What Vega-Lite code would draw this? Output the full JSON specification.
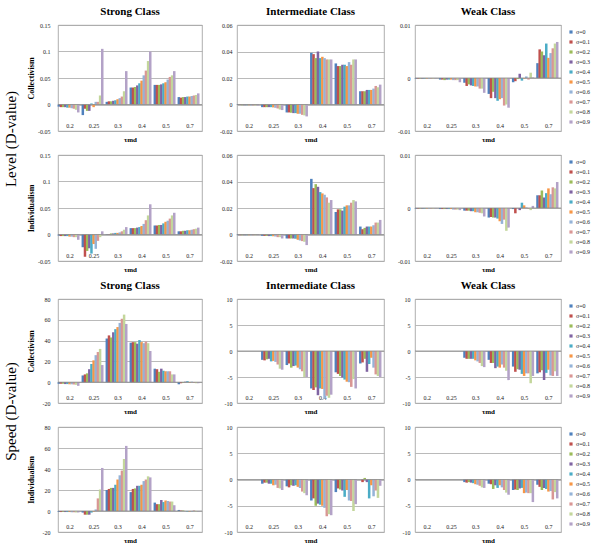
{
"$schema":"https://vega.github.io/schema/vega-lite/v6.json",
"padding":{"left":3,"top":5,"right":0,"bottom":0},
"background":"white",
"config":{
 "font":"Liberation Serif",
 "view":{"stroke":"#9a9a9a","strokeWidth":0.8},
 "axis":{"labelFont":"Liberation Serif","labelFontSize":6,"labelColor":"#222","domain":false,"ticks":false,"tickSize":0,"gridColor":"#a8a8a8","gridWidth":0.8,"titleFont":"Liberation Serif","titleFontWeight":"bold","titleFontSize":8,"titleColor":"#000"},
 "axisX":{"grid":false,"labelPadding":-9,"labelAngle":0,"titlePadding":4,"titleFontSize":7,"minExtent":0,"maxExtent":0},
 "axisY":{"grid":true,"labelPadding":5,"tickCount":20,"labelExpr":"datum.value + ''","labelOverlap":false,"labelBound":false,"labelFlush":false},
 "title":{"font":"Liberation Serif","fontSize":11,"fontWeight":"bold","offset":5,"color":"#000","frame":"group","anchor":"middle"},
 "legend":{"orient":"right","labelFont":"Liberation Serif","labelFontSize":6,"labelColor":"#222","symbolType":"square","symbolSize":10,"symbolStrokeWidth":0,"rowPadding":4,"offset":3,"padding":4,"labelOffset":2},
 "bar":{"strokeWidth":0,"opacity":1,"width":{"band":1.15}}
},
"datasets":{
"a":[
{"t":"0.2","s":"0","v":-0.004},{"t":"0.2","s":"0.1","v":-0.005},{"t":"0.2","s":"0.2","v":-0.005},{"t":"0.2","s":"0.3","v":-0.005},{"t":"0.2","s":"0.4","v":-0.006},{"t":"0.2","s":"0.5","v":-0.006},{"t":"0.2","s":"0.6","v":-0.007},{"t":"0.2","s":"0.7","v":-0.008},{"t":"0.2","s":"0.8","v":-0.01},{"t":"0.2","s":"0.9","v":-0.015},
{"t":"0.25","s":"0","v":-0.02},{"t":"0.25","s":"0.1","v":-0.008},{"t":"0.25","s":"0.2","v":-0.012},{"t":"0.25","s":"0.3","v":-0.012},{"t":"0.25","s":"0.4","v":0.002},{"t":"0.25","s":"0.5","v":-0.005},{"t":"0.25","s":"0.6","v":0.005},{"t":"0.25","s":"0.7","v":0.005},{"t":"0.25","s":"0.8","v":0.017},{"t":"0.25","s":"0.9","v":0.105},
{"t":"0.3","s":"0","v":0.005},{"t":"0.3","s":"0.1","v":0.006},{"t":"0.3","s":"0.2","v":0.006},{"t":"0.3","s":"0.3","v":0.007},{"t":"0.3","s":"0.4","v":0.008},{"t":"0.3","s":"0.5","v":0.01},{"t":"0.3","s":"0.6","v":0.012},{"t":"0.3","s":"0.7","v":0.015},{"t":"0.3","s":"0.8","v":0.025},{"t":"0.3","s":"0.9","v":0.063},
{"t":"0.4","s":"0","v":0.032},{"t":"0.4","s":"0.1","v":0.032},{"t":"0.4","s":"0.2","v":0.033},{"t":"0.4","s":"0.3","v":0.036},{"t":"0.4","s":"0.4","v":0.04},{"t":"0.4","s":"0.5","v":0.045},{"t":"0.4","s":"0.6","v":0.055},{"t":"0.4","s":"0.7","v":0.064},{"t":"0.4","s":"0.8","v":0.082},{"t":"0.4","s":"0.9","v":0.1},
{"t":"0.5","s":"0","v":0.037},{"t":"0.5","s":"0.1","v":0.037},{"t":"0.5","s":"0.2","v":0.037},{"t":"0.5","s":"0.3","v":0.038},{"t":"0.5","s":"0.4","v":0.04},{"t":"0.5","s":"0.5","v":0.042},{"t":"0.5","s":"0.6","v":0.047},{"t":"0.5","s":"0.7","v":0.052},{"t":"0.5","s":"0.8","v":0.055},{"t":"0.5","s":"0.9","v":0.063},
{"t":"0.7","s":"0","v":0.014},{"t":"0.7","s":"0.1","v":0.013},{"t":"0.7","s":"0.2","v":0.014},{"t":"0.7","s":"0.3","v":0.014},{"t":"0.7","s":"0.4","v":0.015},{"t":"0.7","s":"0.5","v":0.015},{"t":"0.7","s":"0.6","v":0.016},{"t":"0.7","s":"0.7","v":0.017},{"t":"0.7","s":"0.8","v":0.018},{"t":"0.7","s":"0.9","v":0.021}
],
"b":[
{"t":"0.2","s":"0","v":-0.0004},{"t":"0.2","s":"0.1","v":-0.0004},{"t":"0.2","s":"0.2","v":-0.0005},{"t":"0.2","s":"0.3","v":-0.0005},{"t":"0.2","s":"0.4","v":-0.0005},{"t":"0.2","s":"0.5","v":-0.0005},{"t":"0.2","s":"0.6","v":-0.0006},{"t":"0.2","s":"0.7","v":-0.0006},{"t":"0.2","s":"0.8","v":-0.0007},{"t":"0.2","s":"0.9","v":-0.0008},
{"t":"0.25","s":"0","v":-0.002},{"t":"0.25","s":"0.1","v":-0.002},{"t":"0.25","s":"0.2","v":-0.002},{"t":"0.25","s":"0.3","v":-0.002},{"t":"0.25","s":"0.4","v":-0.002},{"t":"0.25","s":"0.5","v":-0.0022},{"t":"0.25","s":"0.6","v":-0.0025},{"t":"0.25","s":"0.7","v":-0.003},{"t":"0.25","s":"0.8","v":-0.0038},{"t":"0.25","s":"0.9","v":-0.0042},
{"t":"0.3","s":"0","v":-0.006},{"t":"0.3","s":"0.1","v":-0.006},{"t":"0.3","s":"0.2","v":-0.0062},{"t":"0.3","s":"0.3","v":-0.0065},{"t":"0.3","s":"0.4","v":-0.0065},{"t":"0.3","s":"0.5","v":-0.007},{"t":"0.3","s":"0.6","v":-0.007},{"t":"0.3","s":"0.7","v":-0.0078},{"t":"0.3","s":"0.8","v":-0.0082},{"t":"0.3","s":"0.9","v":-0.009},
{"t":"0.4","s":"0","v":0.039},{"t":"0.4","s":"0.1","v":0.038},{"t":"0.4","s":"0.2","v":0.035},{"t":"0.4","s":"0.3","v":0.04},{"t":"0.4","s":"0.4","v":0.035},{"t":"0.4","s":"0.5","v":0.036},{"t":"0.4","s":"0.6","v":0.035},{"t":"0.4","s":"0.7","v":0.034},{"t":"0.4","s":"0.8","v":0.034},{"t":"0.4","s":"0.9","v":0.034},
{"t":"0.5","s":"0","v":0.031},{"t":"0.5","s":"0.1","v":0.029},{"t":"0.5","s":"0.2","v":0.029},{"t":"0.5","s":"0.3","v":0.03},{"t":"0.5","s":"0.4","v":0.03},{"t":"0.5","s":"0.5","v":0.029},{"t":"0.5","s":"0.6","v":0.032},{"t":"0.5","s":"0.7","v":0.03},{"t":"0.5","s":"0.8","v":0.034},{"t":"0.5","s":"0.9","v":0.034},
{"t":"0.7","s":"0","v":0.01},{"t":"0.7","s":"0.1","v":0.01},{"t":"0.7","s":"0.2","v":0.01},{"t":"0.7","s":"0.3","v":0.011},{"t":"0.7","s":"0.4","v":0.011},{"t":"0.7","s":"0.5","v":0.011},{"t":"0.7","s":"0.6","v":0.012},{"t":"0.7","s":"0.7","v":0.014},{"t":"0.7","s":"0.8","v":0.013},{"t":"0.7","s":"0.9","v":0.015}
],
"c":[
{"t":"0.2","s":"0","v":-0.0001},{"t":"0.2","s":"0.1","v":-0.0001},{"t":"0.2","s":"0.2","v":-0.0001},{"t":"0.2","s":"0.3","v":-0.0001},{"t":"0.2","s":"0.4","v":-0.0001},{"t":"0.2","s":"0.5","v":-0.0001},{"t":"0.2","s":"0.6","v":-0.0001},{"t":"0.2","s":"0.7","v":-0.0001},{"t":"0.2","s":"0.8","v":-0.0001},{"t":"0.2","s":"0.9","v":-0.0001},
{"t":"0.25","s":"0","v":-0.0003},{"t":"0.25","s":"0.1","v":-0.0003},{"t":"0.25","s":"0.2","v":-0.0004},{"t":"0.25","s":"0.3","v":-0.0003},{"t":"0.25","s":"0.4","v":-0.0003},{"t":"0.25","s":"0.5","v":-0.0003},{"t":"0.25","s":"0.6","v":-0.0004},{"t":"0.25","s":"0.7","v":-0.0004},{"t":"0.25","s":"0.8","v":-0.0004},{"t":"0.25","s":"0.9","v":-0.0008},
{"t":"0.3","s":"0","v":-0.0009},{"t":"0.3","s":"0.1","v":-0.0015},{"t":"0.3","s":"0.2","v":-0.0012},{"t":"0.3","s":"0.3","v":-0.0014},{"t":"0.3","s":"0.4","v":-0.0015},{"t":"0.3","s":"0.5","v":-0.0016},{"t":"0.3","s":"0.6","v":-0.0016},{"t":"0.3","s":"0.7","v":-0.002},{"t":"0.3","s":"0.8","v":-0.002},{"t":"0.3","s":"0.9","v":-0.0028},
{"t":"0.4","s":"0","v":-0.003},{"t":"0.4","s":"0.1","v":-0.0038},{"t":"0.4","s":"0.2","v":-0.0026},{"t":"0.4","s":"0.3","v":-0.0038},{"t":"0.4","s":"0.4","v":-0.0043},{"t":"0.4","s":"0.5","v":-0.004},{"t":"0.4","s":"0.6","v":-0.0038},{"t":"0.4","s":"0.7","v":-0.0052},{"t":"0.4","s":"0.8","v":-0.005},{"t":"0.4","s":"0.9","v":-0.0056},
{"t":"0.5","s":"0","v":-0.0008},{"t":"0.5","s":"0.1","v":-0.0006},{"t":"0.5","s":"0.2","v":-0.0002},{"t":"0.5","s":"0.3","v":0.0008},{"t":"0.5","s":"0.4","v":-0.0005},{"t":"0.5","s":"0.5","v":-0.0001},{"t":"0.5","s":"0.6","v":0.0003},{"t":"0.5","s":"0.7","v":-0.0003},{"t":"0.5","s":"0.8","v":0.001},{"t":"0.5","s":"0.9","v":0.0001},
{"t":"0.7","s":"0","v":0.0028},{"t":"0.7","s":"0.1","v":0.0054},{"t":"0.7","s":"0.2","v":0.005},{"t":"0.7","s":"0.3","v":0.0043},{"t":"0.7","s":"0.4","v":0.0065},{"t":"0.7","s":"0.5","v":0.0038},{"t":"0.7","s":"0.6","v":0.0047},{"t":"0.7","s":"0.7","v":0.0056},{"t":"0.7","s":"0.8","v":0.0065},{"t":"0.7","s":"0.9","v":0.0068}
],
"d":[
{"t":"0.2","s":"0","v":-0.002},{"t":"0.2","s":"0.1","v":-0.003},{"t":"0.2","s":"0.2","v":-0.003},{"t":"0.2","s":"0.3","v":-0.003},{"t":"0.2","s":"0.4","v":-0.003},{"t":"0.2","s":"0.5","v":-0.004},{"t":"0.2","s":"0.6","v":-0.004},{"t":"0.2","s":"0.7","v":-0.005},{"t":"0.2","s":"0.8","v":-0.005},{"t":"0.2","s":"0.9","v":-0.01},
{"t":"0.25","s":"0","v":-0.024},{"t":"0.25","s":"0.1","v":-0.042},{"t":"0.25","s":"0.2","v":-0.031},{"t":"0.25","s":"0.3","v":-0.026},{"t":"0.25","s":"0.4","v":-0.036},{"t":"0.25","s":"0.5","v":-0.018},{"t":"0.25","s":"0.6","v":-0.027},{"t":"0.25","s":"0.7","v":-0.012},{"t":"0.25","s":"0.8","v":-0.005},{"t":"0.25","s":"0.9","v":0.006},
{"t":"0.3","s":"0","v":0.001},{"t":"0.3","s":"0.1","v":0.001},{"t":"0.3","s":"0.2","v":0.002},{"t":"0.3","s":"0.3","v":0.002},{"t":"0.3","s":"0.4","v":0.003},{"t":"0.3","s":"0.5","v":0.003},{"t":"0.3","s":"0.6","v":0.004},{"t":"0.3","s":"0.7","v":0.006},{"t":"0.3","s":"0.8","v":0.009},{"t":"0.3","s":"0.9","v":0.014},
{"t":"0.4","s":"0","v":0.012},{"t":"0.4","s":"0.1","v":0.012},{"t":"0.4","s":"0.2","v":0.012},{"t":"0.4","s":"0.3","v":0.013},{"t":"0.4","s":"0.4","v":0.014},{"t":"0.4","s":"0.5","v":0.016},{"t":"0.4","s":"0.6","v":0.02},{"t":"0.4","s":"0.7","v":0.027},{"t":"0.4","s":"0.8","v":0.036},{"t":"0.4","s":"0.9","v":0.057},
{"t":"0.5","s":"0","v":0.017},{"t":"0.5","s":"0.1","v":0.017},{"t":"0.5","s":"0.2","v":0.018},{"t":"0.5","s":"0.3","v":0.018},{"t":"0.5","s":"0.4","v":0.021},{"t":"0.5","s":"0.5","v":0.024},{"t":"0.5","s":"0.6","v":0.026},{"t":"0.5","s":"0.7","v":0.03},{"t":"0.5","s":"0.8","v":0.036},{"t":"0.5","s":"0.9","v":0.041},
{"t":"0.7","s":"0","v":0.006},{"t":"0.7","s":"0.1","v":0.006},{"t":"0.7","s":"0.2","v":0.007},{"t":"0.7","s":"0.3","v":0.007},{"t":"0.7","s":"0.4","v":0.008},{"t":"0.7","s":"0.5","v":0.008},{"t":"0.7","s":"0.6","v":0.009},{"t":"0.7","s":"0.7","v":0.01},{"t":"0.7","s":"0.8","v":0.011},{"t":"0.7","s":"0.9","v":0.013}
],
"e":[
{"t":"0.2","s":"0","v":-0.0005},{"t":"0.2","s":"0.1","v":-0.0005},{"t":"0.2","s":"0.2","v":-0.0005},{"t":"0.2","s":"0.3","v":-0.0005},{"t":"0.2","s":"0.4","v":-0.0005},{"t":"0.2","s":"0.5","v":-0.0005},{"t":"0.2","s":"0.6","v":-0.0005},{"t":"0.2","s":"0.7","v":-0.0005},{"t":"0.2","s":"0.8","v":-0.0005},{"t":"0.2","s":"0.9","v":-0.0005},
{"t":"0.25","s":"0","v":-0.001},{"t":"0.25","s":"0.1","v":-0.001},{"t":"0.25","s":"0.2","v":-0.001},{"t":"0.25","s":"0.3","v":-0.0012},{"t":"0.25","s":"0.4","v":-0.0012},{"t":"0.25","s":"0.5","v":-0.0013},{"t":"0.25","s":"0.6","v":-0.0015},{"t":"0.25","s":"0.7","v":-0.002},{"t":"0.25","s":"0.8","v":-0.002},{"t":"0.25","s":"0.9","v":-0.003},
{"t":"0.3","s":"0","v":-0.003},{"t":"0.3","s":"0.1","v":-0.003},{"t":"0.3","s":"0.2","v":-0.003},{"t":"0.3","s":"0.3","v":-0.003},{"t":"0.3","s":"0.4","v":-0.0032},{"t":"0.3","s":"0.5","v":-0.004},{"t":"0.3","s":"0.6","v":-0.0045},{"t":"0.3","s":"0.7","v":-0.005},{"t":"0.3","s":"0.8","v":-0.0055},{"t":"0.3","s":"0.9","v":-0.008},
{"t":"0.4","s":"0","v":0.042},{"t":"0.4","s":"0.1","v":0.035},{"t":"0.4","s":"0.2","v":0.038},{"t":"0.4","s":"0.3","v":0.036},{"t":"0.4","s":"0.4","v":0.032},{"t":"0.4","s":"0.5","v":0.031},{"t":"0.4","s":"0.6","v":0.03},{"t":"0.4","s":"0.7","v":0.028},{"t":"0.4","s":"0.8","v":0.024},{"t":"0.4","s":"0.9","v":0.026},
{"t":"0.5","s":"0","v":0.017},{"t":"0.5","s":"0.1","v":0.019},{"t":"0.5","s":"0.2","v":0.019},{"t":"0.5","s":"0.3","v":0.018},{"t":"0.5","s":"0.4","v":0.021},{"t":"0.5","s":"0.5","v":0.022},{"t":"0.5","s":"0.6","v":0.022},{"t":"0.5","s":"0.7","v":0.024},{"t":"0.5","s":"0.8","v":0.026},{"t":"0.5","s":"0.9","v":0.025},
{"t":"0.7","s":"0","v":0.006},{"t":"0.7","s":"0.1","v":0.004},{"t":"0.7","s":"0.2","v":0.005},{"t":"0.7","s":"0.3","v":0.006},{"t":"0.7","s":"0.4","v":0.006},{"t":"0.7","s":"0.5","v":0.006},{"t":"0.7","s":"0.6","v":0.007},{"t":"0.7","s":"0.7","v":0.009},{"t":"0.7","s":"0.8","v":0.009},{"t":"0.7","s":"0.9","v":0.011}
],
"f":[
{"t":"0.2","s":"0","v":-0.0001},{"t":"0.2","s":"0.1","v":-0.0001},{"t":"0.2","s":"0.2","v":-0.0001},{"t":"0.2","s":"0.3","v":-0.0001},{"t":"0.2","s":"0.4","v":-0.0001},{"t":"0.2","s":"0.5","v":-0.0001},{"t":"0.2","s":"0.6","v":-0.0001},{"t":"0.2","s":"0.7","v":-0.0001},{"t":"0.2","s":"0.8","v":-0.0001},{"t":"0.2","s":"0.9","v":-0.0001},
{"t":"0.25","s":"0","v":-0.0002},{"t":"0.25","s":"0.1","v":-0.0002},{"t":"0.25","s":"0.2","v":-0.0002},{"t":"0.25","s":"0.3","v":-0.0002},{"t":"0.25","s":"0.4","v":-0.0002},{"t":"0.25","s":"0.5","v":-0.0002},{"t":"0.25","s":"0.6","v":-0.0003},{"t":"0.25","s":"0.7","v":-0.0003},{"t":"0.25","s":"0.8","v":-0.0003},{"t":"0.25","s":"0.9","v":-0.0004},
{"t":"0.3","s":"0","v":-0.0005},{"t":"0.3","s":"0.1","v":-0.0005},{"t":"0.3","s":"0.2","v":-0.0005},{"t":"0.3","s":"0.3","v":-0.0006},{"t":"0.3","s":"0.4","v":-0.0006},{"t":"0.3","s":"0.5","v":-0.0008},{"t":"0.3","s":"0.6","v":-0.0008},{"t":"0.3","s":"0.7","v":-0.0009},{"t":"0.3","s":"0.8","v":-0.001},{"t":"0.3","s":"0.9","v":-0.0016},
{"t":"0.4","s":"0","v":-0.0018},{"t":"0.4","s":"0.1","v":-0.0017},{"t":"0.4","s":"0.2","v":-0.0018},{"t":"0.4","s":"0.3","v":-0.0018},{"t":"0.4","s":"0.4","v":-0.002},{"t":"0.4","s":"0.5","v":-0.0025},{"t":"0.4","s":"0.6","v":-0.003},{"t":"0.4","s":"0.7","v":-0.0022},{"t":"0.4","s":"0.8","v":-0.0043},{"t":"0.4","s":"0.9","v":-0.0037},
{"t":"0.5","s":"0","v":-0.0002},{"t":"0.5","s":"0.1","v":-0.001},{"t":"0.5","s":"0.2","v":0},{"t":"0.5","s":"0.3","v":-0.0004},{"t":"0.5","s":"0.4","v":0.001},{"t":"0.5","s":"0.5","v":0.0005},{"t":"0.5","s":"0.6","v":0.0001},{"t":"0.5","s":"0.7","v":-0.0001},{"t":"0.5","s":"0.8","v":-0.0004},{"t":"0.5","s":"0.9","v":0.0004},
{"t":"0.7","s":"0","v":0.0024},{"t":"0.7","s":"0.1","v":0.0024},{"t":"0.7","s":"0.2","v":0.0033},{"t":"0.7","s":"0.3","v":0.002},{"t":"0.7","s":"0.4","v":0.0028},{"t":"0.7","s":"0.5","v":0.0037},{"t":"0.7","s":"0.6","v":0.0026},{"t":"0.7","s":"0.7","v":0.0039},{"t":"0.7","s":"0.8","v":0.0037},{"t":"0.7","s":"0.9","v":0.0049}
],
"g":[
{"t":"0.2","s":"0","v":-1.5},{"t":"0.2","s":"0.1","v":-1.5},{"t":"0.2","s":"0.2","v":-1.5},{"t":"0.2","s":"0.3","v":-1.8},{"t":"0.2","s":"0.4","v":-1.8},{"t":"0.2","s":"0.5","v":-2},{"t":"0.2","s":"0.6","v":-2},{"t":"0.2","s":"0.7","v":-2.2},{"t":"0.2","s":"0.8","v":-2.5},{"t":"0.2","s":"0.9","v":-3.5},
{"t":"0.25","s":"0","v":6.5},{"t":"0.25","s":"0.1","v":7.5},{"t":"0.25","s":"0.2","v":8.5},{"t":"0.25","s":"0.3","v":12.5},{"t":"0.25","s":"0.4","v":17.5},{"t":"0.25","s":"0.5","v":21},{"t":"0.25","s":"0.6","v":26},{"t":"0.25","s":"0.7","v":29},{"t":"0.25","s":"0.8","v":32},{"t":"0.25","s":"0.9","v":16.5},
{"t":"0.3","s":"0","v":42},{"t":"0.3","s":"0.1","v":45},{"t":"0.3","s":"0.2","v":43},{"t":"0.3","s":"0.3","v":48},{"t":"0.3","s":"0.4","v":51},{"t":"0.3","s":"0.5","v":53},{"t":"0.3","s":"0.6","v":57},{"t":"0.3","s":"0.7","v":61},{"t":"0.3","s":"0.8","v":65},{"t":"0.3","s":"0.9","v":56},
{"t":"0.4","s":"0","v":38},{"t":"0.4","s":"0.1","v":38.5},{"t":"0.4","s":"0.2","v":38.5},{"t":"0.4","s":"0.3","v":37},{"t":"0.4","s":"0.4","v":40.5},{"t":"0.4","s":"0.5","v":38.5},{"t":"0.4","s":"0.6","v":37.5},{"t":"0.4","s":"0.7","v":39},{"t":"0.4","s":"0.8","v":37.5},{"t":"0.4","s":"0.9","v":30},
{"t":"0.5","s":"0","v":13},{"t":"0.5","s":"0.1","v":12.5},{"t":"0.5","s":"0.2","v":10},{"t":"0.5","s":"0.3","v":13},{"t":"0.5","s":"0.4","v":11},{"t":"0.5","s":"0.5","v":10.5},{"t":"0.5","s":"0.6","v":10.5},{"t":"0.5","s":"0.7","v":10.5},{"t":"0.5","s":"0.8","v":7.5},{"t":"0.5","s":"0.9","v":7.5},
{"t":"0.7","s":"0","v":-2},{"t":"0.7","s":"0.1","v":-1},{"t":"0.7","s":"0.2","v":-0.5},{"t":"0.7","s":"0.3","v":0.5},{"t":"0.7","s":"0.4","v":1},{"t":"0.7","s":"0.5","v":-0.5},{"t":"0.7","s":"0.6","v":0.5},{"t":"0.7","s":"0.7","v":-0.5},{"t":"0.7","s":"0.8","v":-1},{"t":"0.7","s":"0.9","v":-1}
],
"h":[
{"t":"0.25","s":"0","v":-1.7},{"t":"0.25","s":"0.1","v":-1.8},{"t":"0.25","s":"0.2","v":-1.6},{"t":"0.25","s":"0.3","v":-1.5},{"t":"0.25","s":"0.4","v":-2},{"t":"0.25","s":"0.5","v":-1.9},{"t":"0.25","s":"0.6","v":-2.1},{"t":"0.25","s":"0.7","v":-2.6},{"t":"0.25","s":"0.8","v":-3.4},{"t":"0.25","s":"0.9","v":-3.6},
{"t":"0.3","s":"0","v":-2.7},{"t":"0.3","s":"0.1","v":-2.4},{"t":"0.3","s":"0.2","v":-3.2},{"t":"0.3","s":"0.3","v":-2.9},{"t":"0.3","s":"0.4","v":-2.8},{"t":"0.3","s":"0.5","v":-3.2},{"t":"0.3","s":"0.6","v":-3.5},{"t":"0.3","s":"0.7","v":-3.9},{"t":"0.3","s":"0.8","v":-5},{"t":"0.3","s":"0.9","v":-5},
{"t":"0.4","s":"0","v":-7.2},{"t":"0.4","s":"0.1","v":-7.5},{"t":"0.4","s":"0.2","v":-7},{"t":"0.4","s":"0.3","v":-8.5},{"t":"0.4","s":"0.4","v":-7.2},{"t":"0.4","s":"0.5","v":-7.3},{"t":"0.4","s":"0.6","v":-9.2},{"t":"0.4","s":"0.7","v":-8.6},{"t":"0.4","s":"0.8","v":-9},{"t":"0.4","s":"0.9","v":-8.4},
{"t":"0.5","s":"0","v":-4.1},{"t":"0.5","s":"0.1","v":-4.4},{"t":"0.5","s":"0.2","v":-4.8},{"t":"0.5","s":"0.3","v":-5.1},{"t":"0.5","s":"0.4","v":-5.5},{"t":"0.5","s":"0.5","v":-5.9},{"t":"0.5","s":"0.6","v":-6},{"t":"0.5","s":"0.7","v":-6.9},{"t":"0.5","s":"0.8","v":-5.4},{"t":"0.5","s":"0.9","v":-7.2},
{"t":"0.7","s":"0","v":-2.4},{"t":"0.7","s":"0.1","v":-2.2},{"t":"0.7","s":"0.2","v":-1.5},{"t":"0.7","s":"0.3","v":-4},{"t":"0.7","s":"0.4","v":-2.5},{"t":"0.7","s":"0.5","v":-1.3},{"t":"0.7","s":"0.6","v":-3.2},{"t":"0.7","s":"0.7","v":-4.5},{"t":"0.7","s":"0.8","v":-4.8},{"t":"0.7","s":"0.9","v":-5}
],
"i":[
{"t":"0.3","s":"0","v":-1.3},{"t":"0.3","s":"0.1","v":-1.5},{"t":"0.3","s":"0.2","v":-1.5},{"t":"0.3","s":"0.3","v":-1.5},{"t":"0.3","s":"0.4","v":-1.5},{"t":"0.3","s":"0.5","v":-1.8},{"t":"0.3","s":"0.6","v":-2},{"t":"0.3","s":"0.7","v":-2.3},{"t":"0.3","s":"0.8","v":-2.9},{"t":"0.3","s":"0.9","v":-3.1},
{"t":"0.4","s":"0","v":-1.7},{"t":"0.4","s":"0.1","v":-2.3},{"t":"0.4","s":"0.2","v":-2.3},{"t":"0.4","s":"0.3","v":-3.3},{"t":"0.4","s":"0.4","v":-3},{"t":"0.4","s":"0.5","v":-3.2},{"t":"0.4","s":"0.6","v":-2.6},{"t":"0.4","s":"0.7","v":-3.2},{"t":"0.4","s":"0.8","v":-3.8},{"t":"0.4","s":"0.9","v":-5.6},
{"t":"0.5","s":"0","v":-3},{"t":"0.5","s":"0.1","v":-4},{"t":"0.5","s":"0.2","v":-3.5},{"t":"0.5","s":"0.3","v":-3.6},{"t":"0.5","s":"0.4","v":-4.4},{"t":"0.5","s":"0.5","v":-4.8},{"t":"0.5","s":"0.6","v":-4.3},{"t":"0.5","s":"0.7","v":-4.3},{"t":"0.5","s":"0.8","v":-6.2},{"t":"0.5","s":"0.9","v":-4.8},
{"t":"0.7","s":"0","v":-4.3},{"t":"0.7","s":"0.1","v":-4.1},{"t":"0.7","s":"0.2","v":-3.7},{"t":"0.7","s":"0.3","v":-5.6},{"t":"0.7","s":"0.4","v":-4.2},{"t":"0.7","s":"0.5","v":-3.6},{"t":"0.7","s":"0.6","v":-4.7},{"t":"0.7","s":"0.7","v":-4.8},{"t":"0.7","s":"0.8","v":-3.9},{"t":"0.7","s":"0.9","v":-4.8}
],
"j":[
{"t":"0.2","s":"0","v":-0.8},{"t":"0.2","s":"0.1","v":-1},{"t":"0.2","s":"0.2","v":-0.8},{"t":"0.2","s":"0.3","v":-1},{"t":"0.2","s":"0.4","v":-1},{"t":"0.2","s":"0.5","v":-1},{"t":"0.2","s":"0.6","v":-1.2},{"t":"0.2","s":"0.7","v":-1.2},{"t":"0.2","s":"0.8","v":-1.4},{"t":"0.2","s":"0.9","v":-1.4},
{"t":"0.25","s":"0","v":-1.5},{"t":"0.25","s":"0.1","v":-3.5},{"t":"0.25","s":"0.2","v":-3.5},{"t":"0.25","s":"0.3","v":-3.5},{"t":"0.25","s":"0.4","v":-1.5},{"t":"0.25","s":"0.5","v":-0.5},{"t":"0.25","s":"0.6","v":1.5},{"t":"0.25","s":"0.7","v":12},{"t":"0.25","s":"0.8","v":20.5},{"t":"0.25","s":"0.9","v":41},
{"t":"0.3","s":"0","v":20},{"t":"0.3","s":"0.1","v":21},{"t":"0.3","s":"0.2","v":22},{"t":"0.3","s":"0.3","v":22},{"t":"0.3","s":"0.4","v":25},{"t":"0.3","s":"0.5","v":30},{"t":"0.3","s":"0.6","v":34},{"t":"0.3","s":"0.7","v":38.5},{"t":"0.3","s":"0.8","v":49.5},{"t":"0.3","s":"0.9","v":62},
{"t":"0.4","s":"0","v":18},{"t":"0.4","s":"0.1","v":21},{"t":"0.4","s":"0.2","v":21.5},{"t":"0.4","s":"0.3","v":24},{"t":"0.4","s":"0.4","v":24},{"t":"0.4","s":"0.5","v":25},{"t":"0.4","s":"0.6","v":28.5},{"t":"0.4","s":"0.7","v":30},{"t":"0.4","s":"0.8","v":33},{"t":"0.4","s":"0.9","v":32},
{"t":"0.5","s":"0","v":8},{"t":"0.5","s":"0.1","v":6.5},{"t":"0.5","s":"0.2","v":6.5},{"t":"0.5","s":"0.3","v":10.5},{"t":"0.5","s":"0.4","v":8.5},{"t":"0.5","s":"0.5","v":10},{"t":"0.5","s":"0.6","v":9.5},{"t":"0.5","s":"0.7","v":9},{"t":"0.5","s":"0.8","v":9},{"t":"0.5","s":"0.9","v":5.5},
{"t":"0.7","s":"0","v":1},{"t":"0.7","s":"0.1","v":0.5},{"t":"0.7","s":"0.2","v":0.5},{"t":"0.7","s":"0.3","v":0},{"t":"0.7","s":"0.4","v":-0.5},{"t":"0.7","s":"0.5","v":-0.5},{"t":"0.7","s":"0.6","v":-0.5},{"t":"0.7","s":"0.7","v":0.5},{"t":"0.7","s":"0.8","v":-0.5},{"t":"0.7","s":"0.9","v":-0.5}
],
"k":[
{"t":"0.25","s":"0","v":-0.8},{"t":"0.25","s":"0.1","v":-0.6},{"t":"0.25","s":"0.2","v":-0.6},{"t":"0.25","s":"0.3","v":-0.8},{"t":"0.25","s":"0.4","v":-0.8},{"t":"0.25","s":"0.5","v":-1.1},{"t":"0.25","s":"0.6","v":-1},{"t":"0.25","s":"0.7","v":-1.6},{"t":"0.25","s":"0.8","v":-1.7},{"t":"0.25","s":"0.9","v":-2},
{"t":"0.3","s":"0","v":-1.3},{"t":"0.3","s":"0.1","v":-1.5},{"t":"0.3","s":"0.2","v":-1.1},{"t":"0.3","s":"0.3","v":-1.2},{"t":"0.3","s":"0.4","v":-1.1},{"t":"0.3","s":"0.5","v":-1.4},{"t":"0.3","s":"0.6","v":-1.6},{"t":"0.3","s":"0.7","v":-2.3},{"t":"0.3","s":"0.8","v":-2.6},{"t":"0.3","s":"0.9","v":-3},
{"t":"0.4","s":"0","v":-4},{"t":"0.4","s":"0.1","v":-3.6},{"t":"0.4","s":"0.2","v":-5},{"t":"0.4","s":"0.3","v":-4.6},{"t":"0.4","s":"0.4","v":-4.8},{"t":"0.4","s":"0.5","v":-5},{"t":"0.4","s":"0.6","v":-5.4},{"t":"0.4","s":"0.7","v":-7},{"t":"0.4","s":"0.8","v":-6.6},{"t":"0.4","s":"0.9","v":-6.8},
{"t":"0.5","s":"0","v":-2.4},{"t":"0.5","s":"0.1","v":-1.7},{"t":"0.5","s":"0.2","v":-1.9},{"t":"0.5","s":"0.3","v":-2.1},{"t":"0.5","s":"0.4","v":-3.3},{"t":"0.5","s":"0.5","v":-2},{"t":"0.5","s":"0.6","v":-4},{"t":"0.5","s":"0.7","v":-4.1},{"t":"0.5","s":"0.8","v":-6},{"t":"0.5","s":"0.9","v":-4.7},
{"t":"0.7","s":"0","v":0},{"t":"0.7","s":"0.1","v":-0.5},{"t":"0.7","s":"0.2","v":0.3},{"t":"0.7","s":"0.3","v":-0.5},{"t":"0.7","s":"0.4","v":-3.6},{"t":"0.7","s":"0.5","v":-1.1},{"t":"0.7","s":"0.6","v":-3.2},{"t":"0.7","s":"0.7","v":-2.1},{"t":"0.7","s":"0.8","v":-3.5},{"t":"0.7","s":"0.9","v":-1.2}
],
"l":[
{"t":"0.3","s":"0","v":-0.5},{"t":"0.3","s":"0.1","v":-0.6},{"t":"0.3","s":"0.2","v":-0.5},{"t":"0.3","s":"0.3","v":-0.6},{"t":"0.3","s":"0.4","v":-0.7},{"t":"0.3","s":"0.5","v":-0.9},{"t":"0.3","s":"0.6","v":-1},{"t":"0.3","s":"0.7","v":-1.2},{"t":"0.3","s":"0.8","v":-1.5},{"t":"0.3","s":"0.9","v":-1.6},
{"t":"0.4","s":"0","v":-0.8},{"t":"0.4","s":"0.1","v":-0.9},{"t":"0.4","s":"0.2","v":-1.8},{"t":"0.4","s":"0.3","v":-1.1},{"t":"0.4","s":"0.4","v":-1.6},{"t":"0.4","s":"0.5","v":-1.1},{"t":"0.4","s":"0.6","v":-1.5},{"t":"0.4","s":"0.7","v":-2},{"t":"0.4","s":"0.8","v":-2.5},{"t":"0.4","s":"0.9","v":-2.9},
{"t":"0.5","s":"0","v":-2},{"t":"0.5","s":"0.1","v":-1.9},{"t":"0.5","s":"0.2","v":-2},{"t":"0.5","s":"0.3","v":-1.7},{"t":"0.5","s":"0.4","v":-1.6},{"t":"0.5","s":"0.5","v":-2.6},{"t":"0.5","s":"0.6","v":-2.5},{"t":"0.5","s":"0.7","v":-2.6},{"t":"0.5","s":"0.8","v":-2.6},{"t":"0.5","s":"0.9","v":-4.3},
{"t":"0.7","s":"0","v":-1},{"t":"0.7","s":"0.1","v":-1.4},{"t":"0.7","s":"0.2","v":-2},{"t":"0.7","s":"0.3","v":-1.6},{"t":"0.7","s":"0.4","v":-1.8},{"t":"0.7","s":"0.5","v":-2.3},{"t":"0.7","s":"0.6","v":-2.2},{"t":"0.7","s":"0.7","v":-3.8},{"t":"0.7","s":"0.8","v":-2.4},{"t":"0.7","s":"0.9","v":-3.6}
]
},
"resolve":{"scale":{"x":"independent","y":"independent","xOffset":"independent","color":"independent"},"axis":{"x":"independent","y":"independent"},"legend":{"color":"independent"}},
"spacing":6,
"vconcat":[
{"title":{"text":"Level (D-value)","orient":"left","fontSize":15,"fontWeight":"normal","offset":8,"anchor":"middle","frame":"bounds"},
 "resolve":{"scale":{"x":"independent","y":"independent","xOffset":"independent","color":"independent"},"axis":{"x":"independent","y":"independent"},"legend":{"color":"independent"}},
 "spacing":8,
 "vconcat":[
  {"spacing":11,"resolve":{"scale":{"x":"independent","y":"independent","xOffset":"independent","color":"independent"},"axis":{"x":"independent","y":"independent"},"legend":{"color":"independent"}},
   "hconcat":[
    {"title":"Strong Class","width":144,"height":106,"data":{"name":"a"},"layer":[
     {"mark":"bar","encoding":{
      "x":{"field":"t","type":"nominal","sort":null,"scale":{"domain":["0.2","0.25","0.3","0.4","0.5","0.7"],"paddingInner":0.1,"paddingOuter":0.05},"title":"τmd"},
      "xOffset":{"field":"s","type":"nominal","sort":null,"scale":{"domain":["0","0.1","0.2","0.3","0.4","0.5","0.6","0.7","0.8","0.9"],"paddingInner":0,"paddingOuter":0}},
      "y":{"field":"v","type":"quantitative","scale":{"domain":[-0.05,0.15],"nice":false,"zero":false},"axis":{"values":[-0.05,0,0.05,0.1,0.15],"minExtent":22,"maxExtent":22,"labelPadding":8,"titlePadding":1},"title":"Collectivism"},
      "color":{"field":"s","type":"nominal","sort":null,"scale":{"domain":["0","0.1","0.2","0.3","0.4","0.5","0.6","0.7","0.8","0.9"],"range":["#4F81BD","#C0504D","#9BBB59","#8064A2","#4BACC6","#F79646","#95B3D7","#D99694","#C3D69B","#B3A2C7"]},"legend":null}}},
     {"data":{"values":[{}]},"mark":{"type":"rule","color":"#868686","strokeWidth":0.8},"encoding":{"y":{"datum":0}}}]},
    {"title":"Intermediate Class","width":147,"height":106,"data":{"name":"b"},"layer":[
     {"mark":"bar","encoding":{
      "x":{"field":"t","type":"nominal","sort":null,"scale":{"domain":["0.2","0.25","0.3","0.4","0.5","0.7"],"paddingInner":0.1,"paddingOuter":0.05},"title":"τmd"},
      "xOffset":{"field":"s","type":"nominal","sort":null,"scale":{"domain":["0","0.1","0.2","0.3","0.4","0.5","0.6","0.7","0.8","0.9"],"paddingInner":0,"paddingOuter":0}},
      "y":{"field":"v","type":"quantitative","scale":{"domain":[-0.02,0.06],"nice":false,"zero":false},"axis":{"values":[-0.02,0,0.02,0.04,0.06],"minExtent":22,"maxExtent":22},"title":null},
      "color":{"field":"s","type":"nominal","sort":null,"scale":{"domain":["0","0.1","0.2","0.3","0.4","0.5","0.6","0.7","0.8","0.9"],"range":["#4F81BD","#C0504D","#9BBB59","#8064A2","#4BACC6","#F79646","#95B3D7","#D99694","#C3D69B","#B3A2C7"]},"legend":null}}},
     {"data":{"values":[{}]},"mark":{"type":"rule","color":"#868686","strokeWidth":0.8},"encoding":{"y":{"datum":0}}}]},
    {"title":"Weak Class","width":146,"height":106,"data":{"name":"c"},"layer":[
     {"mark":"bar","encoding":{
      "x":{"field":"t","type":"nominal","sort":null,"scale":{"domain":["0.2","0.25","0.3","0.4","0.5","0.7"],"paddingInner":0.1,"paddingOuter":0.05},"title":"τmd"},
      "xOffset":{"field":"s","type":"nominal","sort":null,"scale":{"domain":["0","0.1","0.2","0.3","0.4","0.5","0.6","0.7","0.8","0.9"],"paddingInner":0,"paddingOuter":0}},
      "y":{"field":"v","type":"quantitative","scale":{"domain":[-0.01,0.01],"nice":false,"zero":false},"axis":{"values":[-0.01,0,0.01],"minExtent":18,"maxExtent":18},"title":null},
      "color":{"field":"s","type":"nominal","sort":null,"scale":{"domain":["0","0.1","0.2","0.3","0.4","0.5","0.6","0.7","0.8","0.9"],"range":["#4F81BD","#C0504D","#9BBB59","#8064A2","#4BACC6","#F79646","#95B3D7","#D99694","#C3D69B","#B3A2C7"]},"legend":{"title":null,"labelExpr":"'σ=' + datum.label"}}}},
     {"data":{"values":[{}]},"mark":{"type":"rule","color":"#868686","strokeWidth":0.8},"encoding":{"y":{"datum":0}}}]}
   ]},
  {"spacing":11,"resolve":{"scale":{"x":"independent","y":"independent","xOffset":"independent","color":"independent"},"axis":{"x":"independent","y":"independent"},"legend":{"color":"independent"}},
   "hconcat":[
    {"width":144,"height":106,"data":{"name":"d"},"layer":[
     {"mark":"bar","encoding":{
      "x":{"field":"t","type":"nominal","sort":null,"scale":{"domain":["0.2","0.25","0.3","0.4","0.5","0.7"],"paddingInner":0.1,"paddingOuter":0.05},"title":"τmd"},
      "xOffset":{"field":"s","type":"nominal","sort":null,"scale":{"domain":["0","0.1","0.2","0.3","0.4","0.5","0.6","0.7","0.8","0.9"],"paddingInner":0,"paddingOuter":0}},
      "y":{"field":"v","type":"quantitative","scale":{"domain":[-0.05,0.15],"nice":false,"zero":false},"axis":{"values":[-0.05,0,0.05,0.1,0.15],"minExtent":22,"maxExtent":22,"labelPadding":8,"titlePadding":1},"title":"Individualism"},
      "color":{"field":"s","type":"nominal","sort":null,"scale":{"domain":["0","0.1","0.2","0.3","0.4","0.5","0.6","0.7","0.8","0.9"],"range":["#4F81BD","#C0504D","#9BBB59","#8064A2","#4BACC6","#F79646","#95B3D7","#D99694","#C3D69B","#B3A2C7"]},"legend":null}}},
     {"data":{"values":[{}]},"mark":{"type":"rule","color":"#868686","strokeWidth":0.8},"encoding":{"y":{"datum":0}}}]},
    {"width":147,"height":106,"data":{"name":"e"},"layer":[
     {"mark":"bar","encoding":{
      "x":{"field":"t","type":"nominal","sort":null,"scale":{"domain":["0.2","0.25","0.3","0.4","0.5","0.7"],"paddingInner":0.1,"paddingOuter":0.05},"title":"τmd"},
      "xOffset":{"field":"s","type":"nominal","sort":null,"scale":{"domain":["0","0.1","0.2","0.3","0.4","0.5","0.6","0.7","0.8","0.9"],"paddingInner":0,"paddingOuter":0}},
      "y":{"field":"v","type":"quantitative","scale":{"domain":[-0.02,0.06],"nice":false,"zero":false},"axis":{"values":[-0.02,0,0.02,0.04,0.06],"minExtent":22,"maxExtent":22},"title":null},
      "color":{"field":"s","type":"nominal","sort":null,"scale":{"domain":["0","0.1","0.2","0.3","0.4","0.5","0.6","0.7","0.8","0.9"],"range":["#4F81BD","#C0504D","#9BBB59","#8064A2","#4BACC6","#F79646","#95B3D7","#D99694","#C3D69B","#B3A2C7"]},"legend":null}}},
     {"data":{"values":[{}]},"mark":{"type":"rule","color":"#868686","strokeWidth":0.8},"encoding":{"y":{"datum":0}}}]},
    {"width":146,"height":106,"data":{"name":"f"},"layer":[
     {"mark":"bar","encoding":{
      "x":{"field":"t","type":"nominal","sort":null,"scale":{"domain":["0.2","0.25","0.3","0.4","0.5","0.7"],"paddingInner":0.1,"paddingOuter":0.05},"title":"τmd"},
      "xOffset":{"field":"s","type":"nominal","sort":null,"scale":{"domain":["0","0.1","0.2","0.3","0.4","0.5","0.6","0.7","0.8","0.9"],"paddingInner":0,"paddingOuter":0}},
      "y":{"field":"v","type":"quantitative","scale":{"domain":[-0.01,0.01],"nice":false,"zero":false},"axis":{"values":[-0.01,0,0.01],"minExtent":18,"maxExtent":18},"title":null},
      "color":{"field":"s","type":"nominal","sort":null,"scale":{"domain":["0","0.1","0.2","0.3","0.4","0.5","0.6","0.7","0.8","0.9"],"range":["#4F81BD","#C0504D","#9BBB59","#8064A2","#4BACC6","#F79646","#95B3D7","#D99694","#C3D69B","#B3A2C7"]},"legend":{"title":null,"labelExpr":"'σ=' + datum.label"}}}},
     {"data":{"values":[{}]},"mark":{"type":"rule","color":"#868686","strokeWidth":0.8},"encoding":{"y":{"datum":0}}}]}
   ]}
 ]},
{"title":{"text":"Speed (D-value)","orient":"left","fontSize":15,"fontWeight":"normal","offset":8,"anchor":"middle","frame":"bounds"},
 "resolve":{"scale":{"x":"independent","y":"independent","xOffset":"independent","color":"independent"},"axis":{"x":"independent","y":"independent"},"legend":{"color":"independent"}},
 "spacing":8,
 "vconcat":[
  {"spacing":11,"resolve":{"scale":{"x":"independent","y":"independent","xOffset":"independent","color":"independent"},"axis":{"x":"independent","y":"independent"},"legend":{"color":"independent"}},
   "hconcat":[
    {"title":"Strong Class","width":144,"height":104,"data":{"name":"g"},"layer":[
     {"mark":"bar","encoding":{
      "x":{"field":"t","type":"nominal","sort":null,"scale":{"domain":["0.2","0.25","0.3","0.4","0.5","0.7"],"paddingInner":0.1,"paddingOuter":0.05},"title":"τmd"},
      "xOffset":{"field":"s","type":"nominal","sort":null,"scale":{"domain":["0","0.1","0.2","0.3","0.4","0.5","0.6","0.7","0.8","0.9"],"paddingInner":0,"paddingOuter":0}},
      "y":{"field":"v","type":"quantitative","scale":{"domain":[-20,80],"nice":false,"zero":false},"axis":{"values":[-20,0,20,40,60,80],"minExtent":22,"maxExtent":22,"labelPadding":8,"titlePadding":1},"title":"Collectivism"},
      "color":{"field":"s","type":"nominal","sort":null,"scale":{"domain":["0","0.1","0.2","0.3","0.4","0.5","0.6","0.7","0.8","0.9"],"range":["#4F81BD","#C0504D","#9BBB59","#8064A2","#4BACC6","#F79646","#95B3D7","#D99694","#C3D69B","#B3A2C7"]},"legend":null}}},
     {"data":{"values":[{}]},"mark":{"type":"rule","color":"#868686","strokeWidth":0.8},"encoding":{"y":{"datum":0}}}]},
    {"title":"Intermediate Class","width":147,"height":104,"data":{"name":"h"},"layer":[
     {"mark":"bar","encoding":{
      "x":{"field":"t","type":"nominal","sort":null,"scale":{"domain":["0.2","0.25","0.3","0.4","0.5","0.7"],"paddingInner":0.1,"paddingOuter":0.05},"title":"τmd"},
      "xOffset":{"field":"s","type":"nominal","sort":null,"scale":{"domain":["0","0.1","0.2","0.3","0.4","0.5","0.6","0.7","0.8","0.9"],"paddingInner":0,"paddingOuter":0}},
      "y":{"field":"v","type":"quantitative","scale":{"domain":[-10,10],"nice":false,"zero":false},"axis":{"values":[-10,-5,0,5,10],"minExtent":22,"maxExtent":22},"title":null},
      "color":{"field":"s","type":"nominal","sort":null,"scale":{"domain":["0","0.1","0.2","0.3","0.4","0.5","0.6","0.7","0.8","0.9"],"range":["#4F81BD","#C0504D","#9BBB59","#8064A2","#4BACC6","#F79646","#95B3D7","#D99694","#C3D69B","#B3A2C7"]},"legend":null}}},
     {"data":{"values":[{}]},"mark":{"type":"rule","color":"#868686","strokeWidth":0.8},"encoding":{"y":{"datum":0}}}]},
    {"title":"Weak Class","width":146,"height":104,"data":{"name":"i"},"layer":[
     {"mark":"bar","encoding":{
      "x":{"field":"t","type":"nominal","sort":null,"scale":{"domain":["0.2","0.25","0.3","0.4","0.5","0.7"],"paddingInner":0.1,"paddingOuter":0.05},"title":"τmd"},
      "xOffset":{"field":"s","type":"nominal","sort":null,"scale":{"domain":["0","0.1","0.2","0.3","0.4","0.5","0.6","0.7","0.8","0.9"],"paddingInner":0,"paddingOuter":0}},
      "y":{"field":"v","type":"quantitative","scale":{"domain":[-10,10],"nice":false,"zero":false},"axis":{"values":[-10,-5,0,5,10],"minExtent":18,"maxExtent":18},"title":null},
      "color":{"field":"s","type":"nominal","sort":null,"scale":{"domain":["0","0.1","0.2","0.3","0.4","0.5","0.6","0.7","0.8","0.9"],"range":["#4F81BD","#C0504D","#9BBB59","#8064A2","#4BACC6","#F79646","#95B3D7","#D99694","#C3D69B","#B3A2C7"]},"legend":{"title":null,"labelExpr":"'σ=' + datum.label"}}}},
     {"data":{"values":[{}]},"mark":{"type":"rule","color":"#868686","strokeWidth":0.8},"encoding":{"y":{"datum":0}}}]}
   ]},
  {"spacing":11,"resolve":{"scale":{"x":"independent","y":"independent","xOffset":"independent","color":"independent"},"axis":{"x":"independent","y":"independent"},"legend":{"color":"independent"}},
   "hconcat":[
    {"width":144,"height":105,"data":{"name":"j"},"layer":[
     {"mark":"bar","encoding":{
      "x":{"field":"t","type":"nominal","sort":null,"scale":{"domain":["0.2","0.25","0.3","0.4","0.5","0.7"],"paddingInner":0.1,"paddingOuter":0.05},"title":"τmd"},
      "xOffset":{"field":"s","type":"nominal","sort":null,"scale":{"domain":["0","0.1","0.2","0.3","0.4","0.5","0.6","0.7","0.8","0.9"],"paddingInner":0,"paddingOuter":0}},
      "y":{"field":"v","type":"quantitative","scale":{"domain":[-20,80],"nice":false,"zero":false},"axis":{"values":[-20,0,20,40,60,80],"minExtent":22,"maxExtent":22,"labelPadding":8,"titlePadding":1},"title":"Individualism"},
      "color":{"field":"s","type":"nominal","sort":null,"scale":{"domain":["0","0.1","0.2","0.3","0.4","0.5","0.6","0.7","0.8","0.9"],"range":["#4F81BD","#C0504D","#9BBB59","#8064A2","#4BACC6","#F79646","#95B3D7","#D99694","#C3D69B","#B3A2C7"]},"legend":null}}},
     {"data":{"values":[{}]},"mark":{"type":"rule","color":"#868686","strokeWidth":0.8},"encoding":{"y":{"datum":0}}}]},
    {"width":147,"height":105,"data":{"name":"k"},"layer":[
     {"mark":"bar","encoding":{
      "x":{"field":"t","type":"nominal","sort":null,"scale":{"domain":["0.2","0.25","0.3","0.4","0.5","0.7"],"paddingInner":0.1,"paddingOuter":0.05},"title":"τmd"},
      "xOffset":{"field":"s","type":"nominal","sort":null,"scale":{"domain":["0","0.1","0.2","0.3","0.4","0.5","0.6","0.7","0.8","0.9"],"paddingInner":0,"paddingOuter":0}},
      "y":{"field":"v","type":"quantitative","scale":{"domain":[-10,10],"nice":false,"zero":false},"axis":{"values":[-10,-5,0,5,10],"minExtent":22,"maxExtent":22},"title":null},
      "color":{"field":"s","type":"nominal","sort":null,"scale":{"domain":["0","0.1","0.2","0.3","0.4","0.5","0.6","0.7","0.8","0.9"],"range":["#4F81BD","#C0504D","#9BBB59","#8064A2","#4BACC6","#F79646","#95B3D7","#D99694","#C3D69B","#B3A2C7"]},"legend":null}}},
     {"data":{"values":[{}]},"mark":{"type":"rule","color":"#868686","strokeWidth":0.8},"encoding":{"y":{"datum":0}}}]},
    {"width":146,"height":105,"data":{"name":"l"},"layer":[
     {"mark":"bar","encoding":{
      "x":{"field":"t","type":"nominal","sort":null,"scale":{"domain":["0.2","0.25","0.3","0.4","0.5","0.7"],"paddingInner":0.1,"paddingOuter":0.05},"title":"τmd"},
      "xOffset":{"field":"s","type":"nominal","sort":null,"scale":{"domain":["0","0.1","0.2","0.3","0.4","0.5","0.6","0.7","0.8","0.9"],"paddingInner":0,"paddingOuter":0}},
      "y":{"field":"v","type":"quantitative","scale":{"domain":[-10,10],"nice":false,"zero":false},"axis":{"values":[-10,-5,0,5,10],"minExtent":18,"maxExtent":18},"title":null},
      "color":{"field":"s","type":"nominal","sort":null,"scale":{"domain":["0","0.1","0.2","0.3","0.4","0.5","0.6","0.7","0.8","0.9"],"range":["#4F81BD","#C0504D","#9BBB59","#8064A2","#4BACC6","#F79646","#95B3D7","#D99694","#C3D69B","#B3A2C7"]},"legend":{"title":null,"labelExpr":"'σ=' + datum.label"}}}},
     {"data":{"values":[{}]},"mark":{"type":"rule","color":"#868686","strokeWidth":0.8},"encoding":{"y":{"datum":0}}}]}
   ]}
 ]}
]
}
